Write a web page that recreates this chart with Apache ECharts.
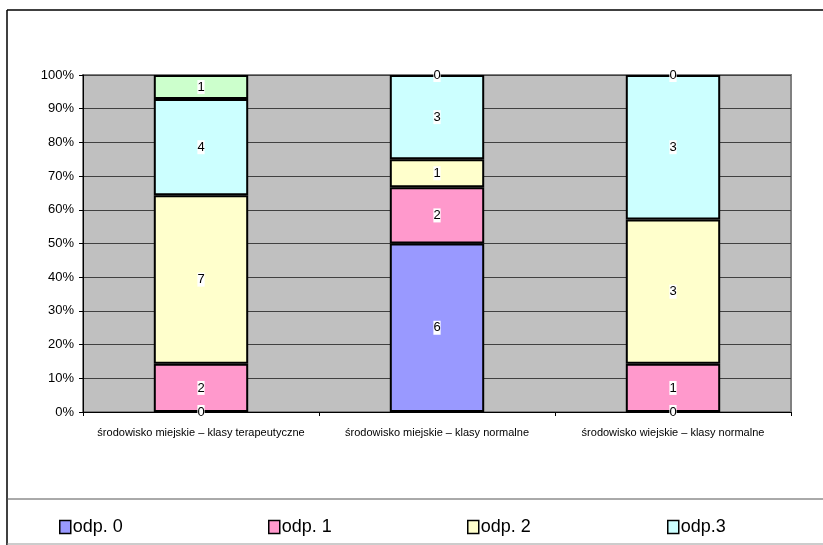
<!DOCTYPE html>
<html>
<head>
<meta charset="utf-8">
<script src="https://cdn.jsdelivr.net/npm/echarts@6/dist/echarts.min.js"></script>
<style>
  html, body { margin: 0; padding: 0; background: #fff; }
  #main { width: 823px; height: 545px; }
</style>
</head>
<body>
<div id="main"></div>
<script>
var categories = ['środowisko miejskie – klasy terapeutyczne', 'środowisko miejskie – klasy normalne', 'środowisko wiejskie – klasy normalne'];
var seriesNames = ['odp. 0', 'odp. 1', 'odp. 2', 'odp.3', 'brak'];
var odp0 = [0, 6, 0];
var odp1 = [2, 2, 1];
var odp2 = [7, 1, 3];
var odp3 = [4, 3, 3];
var odp4 = [1, 0, 0];
var colors = ['#9999ff', '#ff99cc', '#ffffcc', '#ccffff', '#ccffcc'];
var legendLeft = [54, 263, 462, 662];

var raw = [odp0, odp1, odp2, odp3, odp4];
var totals = categories.map(function (c, i) {
    return raw.reduce(function (s, arr) { return s + arr[i]; }, 0);
});

var myChart = echarts.init(document.getElementById('main'));

var series = raw.map(function (arr, k) {
    return {
        name: seriesNames[k],
        type: 'bar',
        stack: 'total',
        barWidth: '40%',
        itemStyle: { color: colors[k], borderColor: '#000', borderWidth: 2 },
        label: {
            show: true,
            position: 'inside',
            color: '#000',
            fontSize: 13,
            fontFamily: 'Liberation Sans',
            backgroundColor: '#fff',
            padding: [1, 0, 0, 0],
            formatter: function (p) { return arr[p.dataIndex]; }
        },
        data: arr.map(function (v, i) {
            var item = { value: v / totals[i] * 100 };
            if (v === 0) item.itemStyle = { borderWidth: 0 };
            return item;
        })
    };
});

option = {
    animation: false,
    textStyle: { fontFamily: 'Liberation Sans' },
    graphic: [
        { type: 'line', shape: { x1: 7, y1: 10, x2: 823, y2: 10 }, style: { stroke: '#000', lineWidth: 1.5 } },
        { type: 'line', shape: { x1: 7, y1: 10, x2: 7, y2: 545 }, style: { stroke: '#000', lineWidth: 1.5 } },
        { type: 'line', shape: { x1: 7, y1: 499, x2: 823, y2: 499 }, style: { stroke: '#555', lineWidth: 1 } },
        { type: 'line', shape: { x1: 7, y1: 544, x2: 823, y2: 544 }, style: { stroke: '#999', lineWidth: 1 } }
    ],
    legend: legendLeft.map(function (x, k) {
        return {
            left: x,
            top: 513,
            itemWidth: 11,
            itemHeight: 13,
            itemGap: 4,
            icon: 'rect',
            itemStyle: { borderColor: '#000', borderWidth: 1.5 },
            textStyle: { fontSize: 18, color: '#000', fontFamily: 'Liberation Sans', padding: [0, 0, 0, -3] },
            data: [seriesNames[k]]
        };
    }),
    grid: {
        left: 83,
        right: 32,
        top: 75,
        bottom: 133,
        show: true,
        backgroundColor: '#c0c0c0',
        borderColor: '#808080',
        borderWidth: 2
    },
    xAxis: {
        type: 'category',
        data: categories,
        axisLine: { lineStyle: { color: '#000', width: 1 } },
        axisTick: { show: true, length: 4, lineStyle: { color: '#000' } },
        axisLabel: { interval: 0, fontSize: 11, color: '#000', margin: 15 }
    },
    yAxis: {
        type: 'value',
        min: 0,
        max: 100,
        interval: 10,
        axisLine: { show: true, lineStyle: { color: '#000', width: 1 } },
        axisTick: { show: true, length: 4, lineStyle: { color: '#000' } },
        axisLabel: { formatter: '{value}%', fontSize: 13, color: '#000', margin: 9 },
        splitLine: { show: true, lineStyle: { color: '#404040', width: 1 } }
    },
    series: series
};
myChart.setOption(option);
</script>
</body>
</html>
